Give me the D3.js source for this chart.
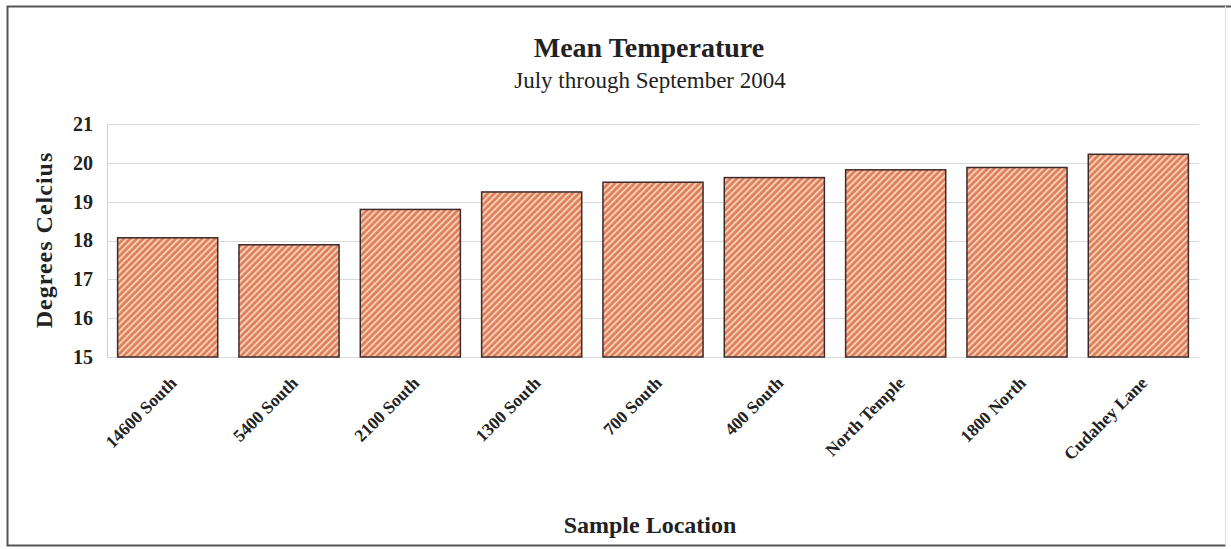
<!DOCTYPE html>
<html>
<head>
<meta charset="utf-8">
<script src="https://cdn.jsdelivr.net/npm/d3@7"></script>
<style>
  html, body { margin: 0; padding: 0; background: #fff; }
  svg { display: block; }
  text { font-family: "Liberation Serif", "DejaVu Serif", serif; fill: #222; }
</style>
</head>
<body>
<svg id="chart" width="1231" height="549"></svg>
<script>
// Mean temperature per sample location, July–September 2004
const locations = ["14600 South", "5400 South", "2100 South", "1300 South", "700 South",
                   "400 South", "North Temple", "1800 North", "Cudahey Lane"];
const meanTemps = [18.07, 17.89, 18.8, 19.25, 19.5, 19.62, 19.82, 19.88, 20.22];
const yTicks = [15, 16, 17, 18, 19, 20, 21];

const svg = d3.select("#chart");
const plot = { left: 107, right: 1199, top: 124, bottom: 357 };

// outer frame
svg.append("path")
  .attr("d", `M1231,6.5 H7.5 V545.5 H1225.5`)
  .attr("fill", "none").attr("stroke", "#555").attr("stroke-width", 2);
svg.append("line")
  .attr("x1", 1225.5).attr("x2", 1225.5).attr("y1", 6).attr("y2", 545)
  .attr("stroke", "#e2e2e2").attr("stroke-width", 1);

// diagonal hatch fill
const defs = svg.append("defs");
const pat = defs.append("pattern")
  .attr("id", "hatch")
  .attr("patternUnits", "userSpaceOnUse")
  .attr("width", 4.6).attr("height", 4.6)
  .attr("patternTransform", "rotate(45)");
pat.append("rect").attr("width", 4.6).attr("height", 4.6).attr("fill", "#df7c5c");
pat.append("rect").attr("x", 0).attr("width", 2).attr("height", 4.6).attr("fill", "#f7d0b2");

const x = d3.scaleBand()
  .domain(locations)
  .range([plot.left, plot.right])
  .paddingInner(0.175)
  .paddingOuter(0.0875);

const y = d3.scaleLinear().domain([15, 21]).range([plot.bottom, plot.top]);

// gridlines
svg.append("g")
  .selectAll("line")
  .data(yTicks)
  .join("line")
  .attr("x1", plot.left).attr("x2", plot.right)
  .attr("y1", d => Math.round(y(d)) + 0.5).attr("y2", d => Math.round(y(d)) + 0.5)
  .attr("stroke", "#d9d9d9").attr("stroke-width", 1);

// left axis line
svg.append("line")
  .attr("x1", plot.left + 0.5).attr("x2", plot.left + 0.5)
  .attr("y1", plot.top).attr("y2", plot.bottom)
  .attr("stroke", "#d0d0d0");

// y axis labels
const yAxis = svg.append("g")
  .attr("transform", `translate(${plot.left},0)`)
  .call(d3.axisLeft(y).tickValues(yTicks).tickSize(0).tickPadding(14).tickFormat(d3.format("d")));
yAxis.select(".domain").remove();
yAxis.selectAll("text")
  .attr("font-family", "Liberation Serif, serif")
  .attr("font-size", 20).attr("font-weight", "bold").attr("fill", "#222");

// bars
svg.append("g")
  .selectAll("rect")
  .data(locations.map((loc, i) => ({ loc, v: meanTemps[i] })))
  .join("rect")
  .attr("x", d => x(d.loc))
  .attr("y", d => y(d.v))
  .attr("width", x.bandwidth())
  .attr("height", d => y(15) - y(d.v))
  .attr("fill", "url(#hatch)")
  .attr("stroke", "#3d2b2b").attr("stroke-width", 1.5);

// x category labels
const xAxis = svg.append("g")
  .attr("transform", `translate(0,${plot.bottom})`)
  .call(d3.axisBottom(x).tickSize(0).tickPadding(0));
xAxis.select(".domain").remove();
xAxis.selectAll("text")
  .attr("font-family", "Liberation Serif, serif")
  .attr("font-size", 17.5).attr("font-weight", "bold").attr("fill", "#222")
  .attr("text-anchor", "end")
  .attr("dy", 0)
  .attr("transform", "translate(10,27) rotate(-45)");

// titles
svg.append("text")
  .attr("x", 649).attr("y", 57)
  .attr("text-anchor", "middle")
  .attr("font-size", 28).attr("font-weight", "bold")
  .text("Mean Temperature");
svg.append("text")
  .attr("x", 650).attr("y", 88)
  .attr("text-anchor", "middle")
  .attr("font-size", 23)
  .text("July through September 2004");
svg.append("text")
  .attr("x", 650).attr("y", 533)
  .attr("text-anchor", "middle")
  .attr("font-size", 24).attr("font-weight", "bold")
  .text("Sample Location");
svg.append("text")
  .attr("transform", "translate(52,240) rotate(-90)")
  .attr("text-anchor", "middle")
  .attr("font-size", 24).attr("font-weight", "bold")
  .attr("letter-spacing", 1)
  .text("Degrees Celcius");
</script>
</body>
</html>
